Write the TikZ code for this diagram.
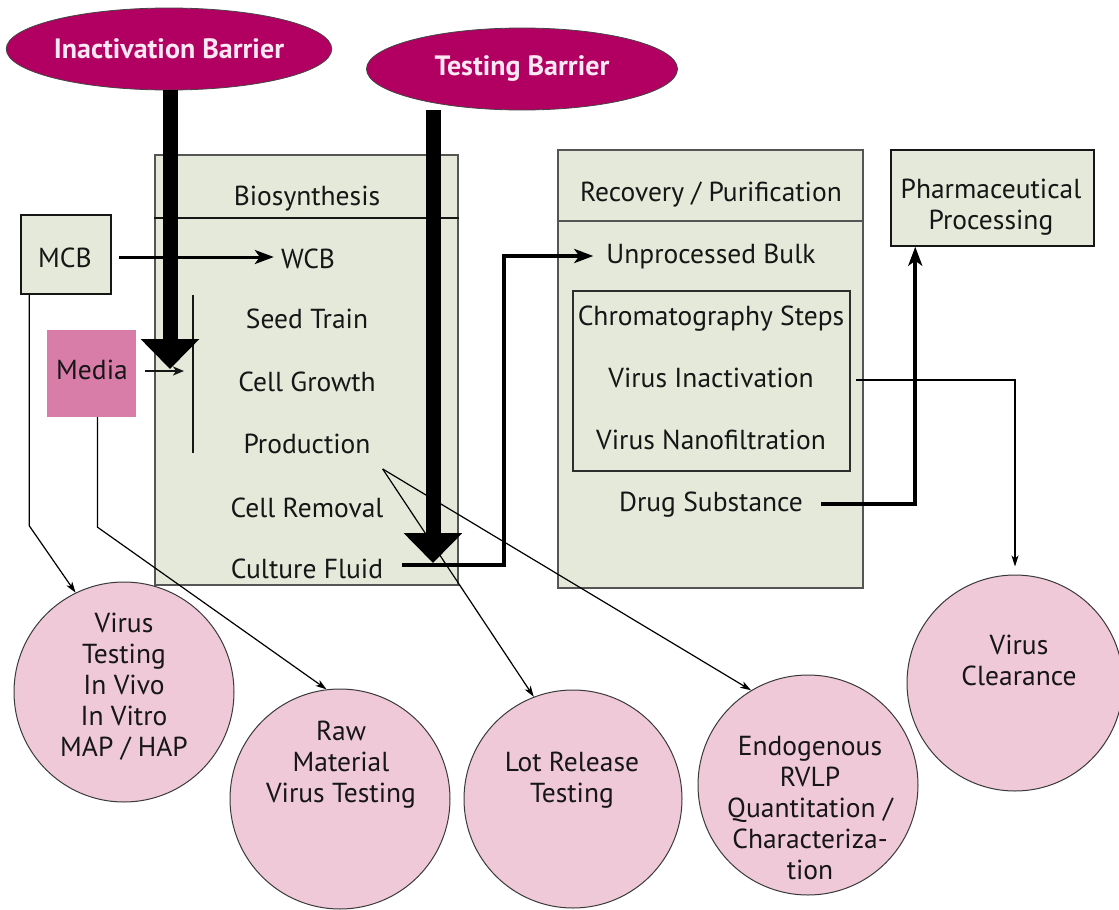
\documentclass[tikz,border=0pt]{standalone}
\usepackage{fontspec}
\setmainfont{PT Sans}
\usetikzlibrary{arrows.meta,shapes.geometric,calc}

\definecolor{boxfill}{RGB}{228,233,218}
\definecolor{barrier}{RGB}{178,0,98}
\definecolor{circfill}{RGB}{240,201,217}
\definecolor{mediafill}{RGB}{216,124,168}
\definecolor{ink}{RGB}{22,22,22}
\definecolor{edge}{RGB}{85,85,85}
\definecolor{barriertext}{RGB}{252,232,242}

\begin{document}
\begin{tikzpicture}[x=1pt,y=-1pt,
  font=\fontsize{27.5}{31}\selectfont,
  txt/.style={inner sep=0pt, text height=19pt, text depth=5pt, anchor=base, text=ink},
  blocktxt/.style={inner sep=0pt, align=center, text=ink},
  stagebox/.style={draw=edge, line width=1.2pt, fill=boxfill, inner sep=0pt},
  smallbox/.style={draw=ink, line width=1.5pt, fill=boxfill, inner sep=0pt},
  barrierstyle/.style={ellipse, draw=ink!80, line width=0.8pt, fill=barrier, text=barriertext, font=\fontsize{28}{31}\selectfont\bfseries, inner sep=0pt},
  testcircle/.style={circle, draw=ink!85, line width=1pt, fill=circfill, inner sep=0pt},
  barrierarrow/.style={line width=15pt, -{Triangle[width=57pt,length=30pt]}},
  flowthick/.style={line width=4pt, -{Stealth[length=19pt,width=14pt,inset=5pt]}},
  flowmid/.style={line width=3pt, -{Stealth[length=19pt,width=14pt,inset=5pt]}},
  flowthin/.style={line width=1.2pt, -{Stealth[length=11pt,width=7pt,inset=3pt]}}
]
\fill[white] (0,0) rectangle (1119,910);
\useasboundingbox (0,0) rectangle (1119,910);

% process stages
\node[stagebox, minimum width=303pt, minimum height=430pt] (bio) at (306.5,370) {};
\draw[ink, line width=1.2pt] (bio.west |- 0,218) -- (bio.east |- 0,218);
\node[txt] (biot) at (307,205) {Biosynthesis};

\node[stagebox, minimum width=305pt, minimum height=438pt] (rec) at (710.5,369) {};
\draw[edge, line width=1.2pt] (rec.west |- 0,221) -- (rec.east |- 0,221);
\node[txt] (rect) at (711,201) {Recovery / Purification};

\node[stagebox, draw=ink!90, minimum width=277pt, minimum height=180pt] (chrom) at (711.5,381) {};

\node[smallbox, minimum width=203pt, minimum height=96pt] (pharm) at (992.5,198) {};
\node[blocktxt] (pharmt) at (991,207) {Pharmaceutical\\Processing};

\node[smallbox, minimum width=90pt, minimum height=79pt] (mcb) at (66,254.5) {};
\node[txt] (mcbt) at (65,267) {MCB};

\node[fill=mediafill, minimum width=89pt, minimum height=87pt, inner sep=0pt] (media) at (91.5,373.5) {};
\node[txt] (mediat) at (92,379) {Media};

% biosynthesis steps
\node[txt] (wcb) at (308,268) {WCB};
\node[txt] (seed) at (307,328) {Seed Train};
\node[txt] (grow) at (307,391) {Cell Growth};
\node[txt] (prod) at (307,453) {Production};
\node[txt] (crem) at (307,517) {Cell Removal};
\node[txt] (cf) at (307,578) {Culture Fluid};

% purification steps
\node[txt] (ub) at (711,263) {Unprocessed Bulk};
\node[txt] (cs) at (711,325) {Chromatography Steps};
\node[txt] (vi) at (711,387) {Virus Inactivation};
\node[txt] (vn) at (711,449) {Virus Nanofiltration};
\node[txt] (ds) at (711,511) {Drug Substance};

% barriers
\node[barrierstyle, minimum width=312pt, minimum height=82pt] (inact) at (169,49) {Inactivation Barrier};
\node[barrierstyle, minimum width=311pt, minimum height=82pt] (test) at (522,69) {Testing Barrier};

% testing circles
\node[testcircle, minimum size=220pt] (vt) at (124,692) {};
\node[blocktxt] (vtt) at (124,687) {Virus\\Testing\\In Vivo\\In Vitro\\MAP / HAP};
\node[testcircle, minimum size=220pt] (raw) at (340,799) {};
\node[blocktxt] (rawt) at (341,765) {Raw\\Material\\Virus Testing};
\node[testcircle, minimum size=218pt] (lot) at (573,799) {};
\node[blocktxt] (lott) at (572,780) {Lot Release\\Testing};
\node[testcircle, minimum size=220pt] (endo) at (808,785) {};
\node[blocktxt] (endot) at (810,808) {Endogenous\\RVLP\\Quantitation /\\Characteriza-\\tion};
\node[testcircle, minimum size=216pt] (vcl) at (1015,683) {};
\node[blocktxt] (vclt) at (1019,660) {Virus\\Clearance};

% seed train bracket
\coordinate (vtop) at (193,295);
\coordinate (vbot) at (193,453);
\draw[ink, line width=2pt] (vtop) -- (vbot);

% flows
\draw[flowmid] ([xshift=7pt]mcb.east |- 0,257) -- ([xshift=-7pt]wcb.west |- 0,257);
\draw[ink, line width=2pt, -{Stealth[length=11pt,width=9pt,inset=3pt]}]
  ([xshift=9pt]media.east |- 0,371) -- ([xshift=-9pt]vtop |- 0,371);
\draw[flowthick] ([shift={(19pt,6pt)}]cf.east) -- ++(102,0) |- ([xshift=-13pt]ub.west);
\draw[flowthick] ([xshift=18pt]ds.east) -| ([xshift=25pt]pharm.south west);
\draw[flowthin] ([xshift=42pt]vi.east) -| ([yshift=8pt]vcl.north);

% sampling points
\coordinate (pj) at ([shift={(12pt,-23pt)}]prod.east);
\draw[flowthin] ([xshift=9pt]mcb.south west) -- ++(0,231) -- (vt.116);
\draw[flowthin] ([xshift=6pt]media.south) -- ++(0,110) -- (raw.97);
\draw[flowthin] (pj) -- (lot.111);
\draw[flowthin] (pj) -- (endo.121);

% barrier arrows
\coordinate (t1) at (170,369);
\coordinate (t2) at (433,563);
\draw[barrierarrow] (t1 |- inact.south) -- (t1);
\draw[barrierarrow] (t2 |- test.south) -- (t2);
\end{tikzpicture}
\end{document}
